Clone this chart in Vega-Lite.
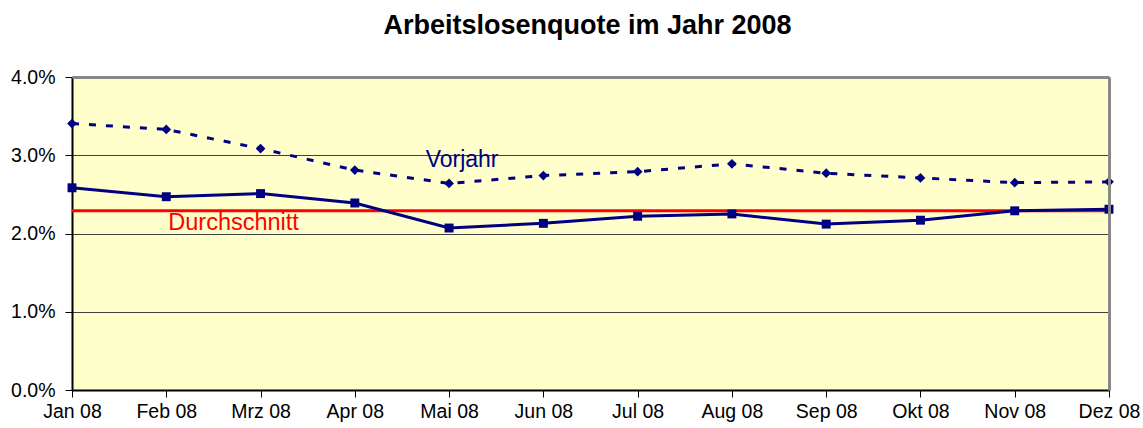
{
  "$schema": "https://vega.github.io/schema/vega-lite/v6.json",
  "autosize": {"type": "none"},
  "padding": {"left": 72, "top": 77, "right": 34, "bottom": 38},
  "width": 1037,
  "height": 313,
  "background": "white",
  "title": {
    "text": "Arbeitslosenquote im Jahr 2008",
    "font": "Liberation Sans",
    "fontSize": 27,
    "fontWeight": "bold",
    "color": "black",
    "anchor": "middle",
    "baseline": "alphabetic",
    "offset": 6,
    "dx": -3
  },
  "config": {
    "view": {"fill": "#FFFFCC", "stroke": null},
    "font": "Liberation Sans"
  },
  "data": {
    "values": [
      {"month": "Jan 08", "aktuell": 0.02584, "vorjahr": 0.03405},
      {"month": "Feb 08", "aktuell": 0.0247, "vorjahr": 0.0333},
      {"month": "Mrz 08", "aktuell": 0.0251, "vorjahr": 0.03085},
      {"month": "Apr 08", "aktuell": 0.0239, "vorjahr": 0.0281},
      {"month": "Mai 08", "aktuell": 0.0207, "vorjahr": 0.0264},
      {"month": "Jun 08", "aktuell": 0.0213, "vorjahr": 0.0274},
      {"month": "Jul 08", "aktuell": 0.0222, "vorjahr": 0.0279},
      {"month": "Aug 08", "aktuell": 0.0225, "vorjahr": 0.0289},
      {"month": "Sep 08", "aktuell": 0.0212, "vorjahr": 0.0277},
      {"month": "Okt 08", "aktuell": 0.0217, "vorjahr": 0.0271},
      {"month": "Nov 08", "aktuell": 0.0229, "vorjahr": 0.0265},
      {"month": "Dez 08", "aktuell": 0.0231, "vorjahr": 0.0266}
    ]
  },
  "resolve": {"axis": {"x": "independent", "y": "independent"}},
  "layer": [
    {
      "data": {"values": [{"avg": 0.0229}]},
      "mark": {"type": "rule", "color": "#FF0000", "strokeWidth": 3},
      "encoding": {
        "y": {"field": "avg", "type": "quantitative", "scale": {"domain": [0, 0.04]}, "axis": null}
      }
    },
    {
      "mark": {"type": "line", "color": "#000080", "strokeWidth": 3, "strokeDash": [7, 10],
               "point": {"shape": "diamond", "size": 95, "filled": true, "color": "#000080"}},
      "encoding": {
        "x": {"field": "month", "type": "ordinal",
              "scale": {"type": "point", "padding": 0, "domain": ["Jan 08","Feb 08","Mrz 08","Apr 08","Mai 08","Jun 08","Jul 08","Aug 08","Sep 08","Okt 08","Nov 08","Dez 08"]},
              "axis": {"orient": "top", "labels": false, "ticks": false, "grid": false, "title": null,
                       "domainColor": "#888888", "domainWidth": 3, "zindex": 1}},
        "y": {"field": "vorjahr", "type": "quantitative", "scale": {"domain": [0, 0.04]},
              "axis": {"orient": "right", "labels": false, "ticks": false, "grid": false, "title": null,
                       "domainColor": "#888888", "domainWidth": 3, "zindex": 1}}
      }
    },
    {
      "mark": {"type": "line", "color": "#000080", "strokeWidth": 3,
               "point": {"shape": "square", "size": 80, "filled": true, "color": "#000080"}},
      "encoding": {
        "x": {"field": "month", "type": "ordinal",
              "scale": {"type": "point", "padding": 0, "domain": ["Jan 08","Feb 08","Mrz 08","Apr 08","Mai 08","Jun 08","Jul 08","Aug 08","Sep 08","Okt 08","Nov 08","Dez 08"]},
              "axis": {"orient": "bottom", "title": null, "labelAngle": 0, "labelFontSize": 19.5,
                       "labelColor": "black", "labelPadding": 5, "tickSize": 7, "tickColor": "black",
                       "tickWidth": 1, "domainColor": "black", "domainWidth": 2, "grid": false}},
        "y": {"field": "aktuell", "type": "quantitative", "scale": {"domain": [0, 0.04]},
              "axis": {"orient": "left", "title": null, "values": [0, 0.01, 0.02, 0.03, 0.04],
                       "format": ".1%", "labelFontSize": 19.5, "labelColor": "black", "labelPadding": 10,
                       "tickSize": 7, "tickColor": "black", "tickWidth": 1,
                       "domainColor": "black", "domainWidth": 2,
                       "grid": true, "gridColor": "#404040", "gridWidth": 1}}
      }
    },
    {
      "data": {"values": [{"month": "Mai 08", "value": 0.0294, "label": "Vorjahr"}]},
      "mark": {"type": "text", "color": "#000080", "fontSize": 23, "align": "center", "baseline": "middle", "dx": 13},
      "encoding": {
        "x": {"field": "month", "type": "ordinal", "axis": null},
        "y": {"field": "value", "type": "quantitative", "axis": null},
        "text": {"field": "label"}
      }
    },
    {
      "data": {"values": [{"month": "Feb 08", "value": 0.0214, "label": "Durchschnitt"}]},
      "mark": {"type": "text", "color": "#FF0000", "fontSize": 23.5, "align": "left", "baseline": "middle", "dx": 2},
      "encoding": {
        "x": {"field": "month", "type": "ordinal", "axis": null},
        "y": {"field": "value", "type": "quantitative", "axis": null},
        "text": {"field": "label"}
      }
    }
  ]
}
